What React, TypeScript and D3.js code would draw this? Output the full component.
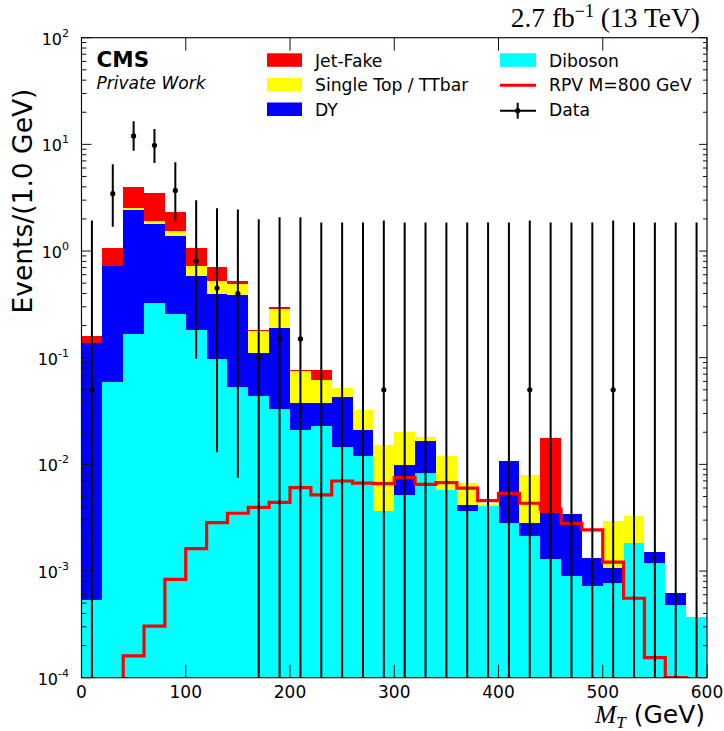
import React from "react";
import * as d3 from "d3";

// ---- data (bins of 20 GeV) ----
const binLow = [0, 20, 40, 60, 80, 100, 120, 140, 160, 180, 200, 220, 240, 260, 280, 300, 320, 340, 360, 380, 400, 420, 440, 460, 480, 500, 520, 540, 560, 580];
const binWidth = 20;

const diboson = [5.4e-4, 0.0596, 0.167, 0.328, 0.258, 0.183, 0.097, 0.0527, 0.044, 0.0328, 0.0211, 0.0227, 0.0144, 0.0121, 0.00368, 0.0052, 0.00835, 0.0058, 0.00368, 0.00407, 0.00284, 0.00215, 0.0013, 0.000903, 0.000728, 0.000772, 0.00182, 0.00119, 0.00048, 0.000368];
const dy = [0.1355, 0.67, 2.27, 1.47, 1.14, 0.404, 0.296, 0.331, 0.067, 0.158, 0.0165, 0.0147, 0.0282, 0.0089, 0, 0.00466, 0.00815, 0, 0.00051, 0, 0.00786, 0.00065, 0.00222, 0.00255, 0.00059, 0.00029, 0, 0.00033, 0.000138, 0];
const singleTop = [0, 0, 0.07, 0.12, 0.13, 0.141, 0.134, 0.103, 0.067, 0.097, 0.0379, 0.0244, 0.0089, 0.011, 0.01152, 0.01014, 0.0016, 0.0062, 0.00254, 0.00015, 0, 0.00509, 0, 0, 0, 0.00186, 0.00144, 0, 0, 0];
const jetFake = [0.024, 0.34, 1.49, 1.58, 0.79, 0.342, 0.176, 0.037, 0.004, 0.012, 0.001, 0.0144, 0.0005, 0.0004, 0, 0, 0, 0, 0, 0, 0, 0, 0.01418, 0, 0.00002, 0, 0, 0, 0, 0];
const signal = [0, 0, 1.6e-4, 3.05e-4, 8.36e-4, 1.62e-3, 2.84e-3, 3.48e-3, 3.96e-3, 4.4e-3, 6.04e-3, 5.17e-3, 6.98e-3, 6.68e-3, 6.6e-3, 7.5e-3, 6.5e-3, 6.73e-3, 6.0e-3, 4.57e-3, 5.34e-3, 4.32e-3, 3.8e-3, 2.8e-3, 2.43e-3, 1.21e-3, 5.56e-4, 1.54e-4, 9e-5, 0];
const data = [0.05, 3.45, 12.0, 9.8, 3.7, 0.8, 0.45, 0.4, 0.1, 0.15, 0.15, 0, 0, 0, 0.05, 0, 0, 0, 0, 0, 0, 0.05, 0, 0, 0, 0.05, 0, 0, 0, 0];
const dataHigh = [1.93, 6.5, 16.5, 13.9, 6.8, 3.0, 2.52, 2.45, 1.99, 2.07, 2.07, 1.85, 1.85, 1.85, 1.93, 1.85, 1.85, 1.85, 1.85, 1.85, 1.85, 1.93, 1.85, 1.85, 1.85, 1.93, 1.85, 1.85, 1.85, 1.85];
const dataLow = [0, 1.69, 8.7, 6.7, 1.88, 0.098, 0.013, 0.0075, 0, 0, 0, 0, 0, 0, 0, 0, 0, 0, 0, 0, 0, 0, 0, 0, 0, 0, 0, 0, 0, 0];

const xTicks = [0, 100, 200, 300, 400, 500, 600];
const yDecades = [-4, -3, -2, -1, 0, 1, 2];

const layerNames = ["Diboson", "DY", "Single Top / TTbar", "Jet-Fake"];
const layerColors = ["#00ffff", "#0000ff", "#ffff00", "#ff0000"];
const layers = [diboson, dy, singleTop, jetFake];

const legendLeft = ["Jet-Fake", "Single Top / TTbar", "DY"];
const legendLeftColors = ["#ff0000", "#ffff00", "#0000ff"];

// ---- layout ----
const W = 724, H = 731;
const L = 81.5, R = 707, T = 37.7, B = 677.7;

export default function App() {
  const x = d3.scaleLinear().domain([0, 600]).range([L, R]);
  const y = d3.scaleLog().domain([1e-4, 1e2]).range([B, T]).clamp(true);
  const ys = (v: number) => y(Math.max(v, 1e-6));

  // stacked rects
  const rects: any[] = [];
  binLow.forEach((lo, i) => {
    let cum = 0;
    layers.forEach((arr, li) => {
      const v = arr[i];
      const bottom = cum;
      cum += v;
      if (v <= 0) return;
      const y0 = ys(bottom);
      const y1 = ys(cum);
      if (y0 - y1 <= 0) return;
      rects.push(
        <rect key={`r${i}-${li}`} x={x(lo)} width={x(lo + binWidth) - x(lo)} y={y1} height={y0 - y1} fill={layerColors[li]} shapeRendering="crispEdges" />
      );
    });
  });

  // signal step line
  const sigPaths: string[] = [];
  let pts: [number, number][] = [];
  const lineGen = d3.line();
  binLow.forEach((lo, i) => {
    const v = signal[i];
    if (v > 0) {
      if (pts.length === 0) pts.push([x(lo), B + 3]);
      pts.push([x(lo), ys(v)]);
      pts.push([x(lo + binWidth), ys(v)]);
    } else if (pts.length) {
      pts.push([pts[pts.length - 1][0], B + 3]);
      sigPaths.push(lineGen(pts) as string);
      pts = [];
    }
  });
  if (pts.length) sigPaths.push(lineGen(pts) as string);

  // y ticks
  const yMajor = yDecades.map((d) => Math.pow(10, d));
  const yMinor: number[] = [];
  yDecades.slice(0, -1).forEach((d) => {
    for (let k = 2; k <= 9; k++) yMinor.push(k * Math.pow(10, d));
  });

  const sans = "DejaVu Sans, Verdana, sans-serif";
  const serif = "Liberation Serif, Times New Roman, serif";

  return (
    <svg width={W} height={H} style={{ position: "absolute", left: 0, top: 0, background: "#fff" }}>
      <defs>
        <clipPath id="plotclip">
          <rect x={L} y={T} width={R - L} height={B - T} />
        </clipPath>
      </defs>
      <rect x={0} y={0} width={W} height={H} fill="#fff" />
      <g clipPath="url(#plotclip)">
        {rects}
        {sigPaths.map((p, i) => (
          <path key={`s${i}`} d={p} fill="none" stroke="#ff0000" strokeWidth={3.2} />
        ))}
        {binLow.map((lo, i) => {
          const cx = x(lo + binWidth / 2);
          return (
            <g key={`d${i}`}>
              <line x1={cx} x2={cx} y1={ys(dataLow[i])} y2={ys(dataHigh[i])} stroke="#000" strokeWidth={2} />
              {data[i] > 0 && <circle cx={cx} cy={ys(data[i])} r={2.6} fill="#000" />}
            </g>
          );
        })}
      </g>

      {/* frame */}
      <rect x={L} y={T} width={R - L} height={B - T} fill="none" stroke="#111" strokeWidth={1.2} />

      {/* x ticks */}
      {xTicks.map((t) => (
        <g key={`xt${t}`}>
          <line x1={x(t)} x2={x(t)} y1={B} y2={B - 13} stroke="#111" strokeWidth={1} />
          <line x1={x(t)} x2={x(t)} y1={T} y2={T + 13} stroke="#111" strokeWidth={1} />
          <text x={x(t)} y={698} textAnchor="middle" fontFamily={sans} fontSize={17} fill="#000">{t}</text>
        </g>
      ))}

      {/* y ticks */}
      {yMajor.map((v, i) => (
        <g key={`ym${i}`}>
          <line x1={L} x2={L + 10} y1={y(v)} y2={y(v)} stroke="#111" strokeWidth={1} />
          <line x1={R} x2={R - 8} y1={y(v)} y2={y(v)} stroke="#111" strokeWidth={1} />
          <text x={69} y={y(v) + 7} textAnchor="end" fontFamily={sans} fontSize={16} fill="#000">
            10<tspan fontSize={11} dy={-8}>{yDecades[i] < 0 ? `-${-yDecades[i]}` : `${yDecades[i]}`}</tspan>
          </text>
        </g>
      ))}
      {yMinor.map((v, i) => (
        <g key={`yn${i}`}>
          <line x1={L} x2={L + 5} y1={y(v)} y2={y(v)} stroke="#111" strokeWidth={1} />
          <line x1={R} x2={R - 4} y1={y(v)} y2={y(v)} stroke="#111" strokeWidth={1} />
        </g>
      ))}

      {/* axis titles */}
      <text transform={`translate(31.5,201) rotate(-90)`} textAnchor="middle" fontFamily={sans} fontSize={26.5} fill="#000">Events/(1.0 GeV)</text>
      <text x={705} y={722.5} textAnchor="end" fill="#000">
        <tspan fontFamily={serif} fontStyle="italic" fontSize={25.5}>M</tspan>
        <tspan fontFamily={serif} fontStyle="italic" fontSize={17} dy={5}>T</tspan>
        <tspan fontFamily={sans} fontSize={25} dy={-5}>{" (GeV)"}</tspan>
      </text>

      {/* top label */}
      <text x={700} y={27} textAnchor="end" fontFamily={serif} fontSize={27.5} fill="#000">
        2.7 fb<tspan fontSize={18} dy={-10}>−1</tspan><tspan dy={10}>{" (13 TeV)"}</tspan>
      </text>

      {/* CMS */}
      <text x={96.5} y={66.7} fontFamily={sans} fontWeight="bold" fontSize={21.5} fill="#000">CMS</text>
      <text x={96.5} y={88.5} fontFamily={sans} fontStyle="italic" fontSize={17} fill="#000">Private Work</text>

      {/* legend left */}
      {legendLeft.map((name, i) => (
        <g key={`ll${i}`}>
          <rect x={267} y={53.3 + i * 24.6} width={35} height={13.5} fill={legendLeftColors[i]} />
          <text x={315} y={66.7 + i * 24.6} fontFamily={sans} fontSize={17.2} fill="#000">{name}</text>
        </g>
      ))}
      {/* legend right */}
      <rect x={500} y={53.3} width={36} height={13.5} fill={layerColors[0]} />
      <text x={549} y={66.7} fontFamily={sans} fontSize={17.2} fill="#000">{layerNames[0]}</text>
      <line x1={500} x2={536} y1={85.3} y2={85.3} stroke="#ff0000" strokeWidth={3} />
      <text x={549} y={91.3} fontFamily={sans} fontSize={17.2} fill="#000">RPV M=800 GeV</text>
      <line x1={500} x2={536} y1={110.7} y2={110.7} stroke="#000" strokeWidth={2} />
      <line x1={517.7} x2={517.7} y1={102.7} y2={118.7} stroke="#000" strokeWidth={2} />
      <circle cx={517.7} cy={110.7} r={2.6} fill="#000" />
      <text x={549} y={116.3} fontFamily={sans} fontSize={17.2} fill="#000">Data</text>
    </svg>
  );
}
